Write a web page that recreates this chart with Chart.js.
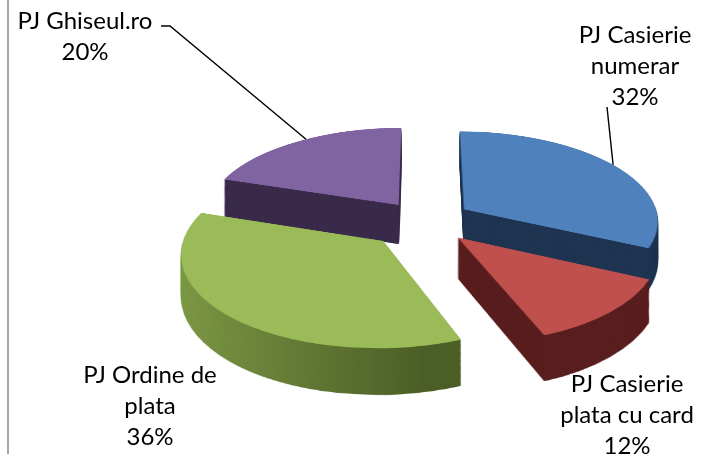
<!DOCTYPE html>
<html>
<head>
<meta charset="utf-8">
<script src="https://cdn.jsdelivr.net/npm/chart.js@4.4.0/dist/chart.umd.min.js"></script>
<style>
  html, body { margin: 0; padding: 0; background: #fff; }
  #wrap { position: relative; width: 703px; height: 454px; }
  #bord { position: absolute; left: 7px; top: 0; width: 2px; height: 454px; background: #a6a6a6; }
</style>
</head>
<body>
<div id="wrap">
  <canvas id="pie" width="703" height="454"></canvas>
  <div id="bord"></div>
</div>
<script>
// date
const categorii = ["PJ Casierie numerar", "PJ Casierie plata cu card", "PJ Ordine de plata", "PJ Ghiseul.ro"];
const procente = [32, 12, 36, 20];
const etichete = [["PJ Casierie", "numerar"], ["PJ Casierie", "plata cu card"], ["PJ Ordine de", "plata"], ["PJ Ghiseul.ro"]];

// stil
const culori = ["#4f81bd", "#c0504d", "#9bbb59", "#8064a2"];
const laterale = ["#1f3551", "#5a1f1f", null, "#3a2b4b"];
const explodare = [48, 48, 58, 44];   // px in planul feliei
const RAZA = 195;
const TILT = 0.46;      // turtire
const PERSP = 0.0006;   // perspectiva (fata mai mare decat spatele)
const ADANCIME = 40;
const FONT = "24px Lato";
const RAND = 31;

// pozitii etichete (centrul primului rand) + linii de legatura
const pozEtichete = [
  { x: 635, y: 35, linie: [[607, 107]], unghi: 57 },
  { x: 627, y: 384 },
  { x: 150, y: 375 },
  { x: 85, y: 21, linie: [[161, 26], [170, 26]], unghi: 327 }
];

function culoareLaterala(ctx, arc, i) {
  if (laterale[i]) return laterale[i];
  const g = ctx.createLinearGradient(arc.x - RAZA - 50, 0, arc.x + 40, 0);
  g.addColorStop(0, "#8aa74e");
  g.addColorStop(1, "#4c5f27");
  return g;
}

// plan -> ecran
function proiecteaza(cx, cy, u, v, h) {
  const s = 1 / (1 - PERSP * v);
  return { x: cx + u * s, y: cy + (TILT * v + (h || 0)) * s };
}

function punctMargine(arc, i, dinSus) {
  const mid = (arc.startAngle + arc.endAngle) / 2;
  const a = (dinSus - 90) * Math.PI / 180;
  const u = explodare[i] * Math.cos(mid) + arc.outerRadius * Math.cos(a);
  const v = explodare[i] * Math.sin(mid) + arc.outerRadius * Math.sin(a);
  return proiecteaza(arc.x, arc.y, u, v, 0);
}

// deseneaza felii plate pe un canvas ascuns
function planFelii(arcs, culoare) {
  const W = 703, H = 2 * (RAZA + 80);
  const c = document.createElement("canvas");
  c.width = W; c.height = H;
  const ctx = c.getContext("2d");
  arcs.forEach((arc, i) => {
    const mid = (arc.startAngle + arc.endAngle) / 2;
    ctx.save();
    ctx.translate(explodare[i] * Math.cos(mid), H / 2 - arc.y + explodare[i] * Math.sin(mid));
    const el = Object.create(arc);
    el.options = Object.assign({}, arc.options, { backgroundColor: culoare(ctx, arc, i) });
    arc.draw.call(el, ctx);
    ctx.restore();
  });
  return c;
}

// rand cu rand: planul -> elipsa in perspectiva, coborata cu h
function deformeaza(ctx, src, cx, cy, h) {
  const H2 = src.height / 2, W = src.width;
  const vDin = dy => (dy - h) / (TILT + PERSP * dy);
  const sus = proiecteaza(cx, cy, 0, -H2, h).y, jos = proiecteaza(cx, cy, 0, H2, h).y;
  for (let y = Math.floor(sus); y < Math.ceil(jos); y++) {
    const v0 = vDin(y - cy), v1 = vDin(y + 1 - cy);
    const s = 1 / (1 - PERSP * (v0 + v1) / 2);
    const a = Math.max(0, H2 + v0), b = Math.min(src.height, H2 + v1);
    if (b <= a) continue;
    ctx.drawImage(src, 0, a, W, b - a, cx - cx * s, y, W * s, 1);
  }
}

const pie3d = {
  id: "pie3d",
  beforeDatasetsDraw(chart) {
    const ctx = chart.ctx;
    const arcs = chart.getDatasetMeta(0).data;
    const cx = arcs[0].x, cy = arcs[0].y;
    const sus = planFelii(arcs, (c, arc, i) => culori[i]);
    const lat = planFelii(arcs, culoareLaterala);
    for (let h = ADANCIME; h >= 1; h--) deformeaza(ctx, lat, cx, cy, h);
    deformeaza(ctx, sus, cx, cy, 0);
    return false;
  }
};

const etichetePlugin = {
  id: "etichete",
  afterDraw(chart) {
    const ctx = chart.ctx;
    const arcs = chart.getDatasetMeta(0).data;
    ctx.save();
    ctx.font = FONT;
    ctx.fillStyle = "#000";
    ctx.textAlign = "center";
    ctx.textBaseline = "middle";
    pozEtichete.forEach((p, i) => {
      const randuri = etichete[i].concat([procente[i] + "%"]);
      randuri.forEach((t, j) => ctx.fillText(t, p.x, p.y + j * RAND));
      if (p.linie) {
        const capat = punctMargine(arcs[i], i, p.unghi);
        ctx.strokeStyle = "#000";
        ctx.lineWidth = 1.4;
        ctx.beginPath();
        ctx.moveTo(p.linie[0][0], p.linie[0][1]);
        p.linie.slice(1).forEach(q => ctx.lineTo(q[0], q[1]));
        ctx.lineTo(capat.x, capat.y);
        ctx.stroke();
      }
    });
    ctx.restore();
  }
};

new Chart(document.getElementById("pie"), {
  type: "pie",
  data: {
    labels: categorii,
    datasets: [{
      data: procente,
      backgroundColor: culori,
      borderWidth: 0,
      clip: false
    }]
  },
  options: {
    responsive: false,
    animation: false,
    events: [],
    radius: RAZA,
    rotation: 0,
    layout: { padding: { left: 145, right: 0, top: 0, bottom: 12 } },
    plugins: { legend: { display: false }, tooltip: { enabled: false } }
  },
  plugins: [pie3d, etichetePlugin]
});
</script>
</body>
</html>
